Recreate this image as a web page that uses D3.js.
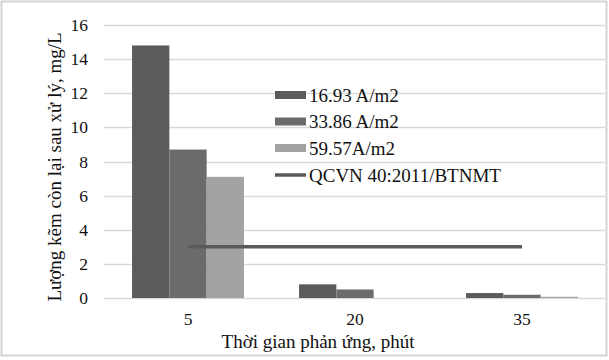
<!DOCTYPE html>
<html><head><meta charset="utf-8">
<script src="https://cdn.jsdelivr.net/npm/d3@7"></script>
<style>body{margin:0;background:#fff}svg{display:block}</style>
</head><body><svg id="c" width="609" height="360" font-family="'Liberation Serif', 'Times New Roman', Times, 'DejaVu Serif', serif"></svg>
<script>
const categories = ["5", "20", "35"];
const seriesNames = ["16.93 A/m2", "33.86 A/m2", "59.57A/m2"];
const series1 = [14.8, 0.8, 0.29];
const series2 = [8.7, 0.5, 0.19];
const series3 = [7.1, 0.0, 0.07];
const limitName = "QCVN 40:2011/BTNMT";
const limitValue = [3, 3, 3];
const yTicks = [0, 2, 4, 6, 8, 10, 12, 14, 16];
const colors = ["#5b5b5b", "#6b6b6b", "#a3a3a3"];
const FONT = "'Liberation Serif', 'Times New Roman', Times, 'DejaVu Serif', serif";

const svg = d3.select("#c");
svg.append("rect").attr("x",1.5).attr("y",1.5).attr("width",605).attr("height",354)
  .attr("fill","#fff").attr("stroke","#d4d4d4").attr("stroke-width",2);

const x0 = d3.scaleBand().domain(categories).range([104.5, 605.5]).paddingInner(0.33).paddingOuter(0.165);
const x1 = d3.scaleBand().domain(seriesNames).range([0, x0.bandwidth()]);
const y = d3.scaleLinear().domain([0, 16]).range([298, 25]);

svg.append("g").selectAll("line").data(yTicks).join("line")
  .attr("x1",104).attr("x2",605).attr("y1",d=>Math.round(y(d))+0.5).attr("y2",d=>Math.round(y(d))+0.5)
  .attr("stroke","#d9d9d9").attr("stroke-width",1.5);

svg.append("g").selectAll("text").data(yTicks).join("text")
  .attr("x",88).attr("y",d=>y(d)+6).attr("text-anchor","end").attr("font-family",FONT)
  .attr("font-size",17.5).attr("fill","#111").text(d=>d);

const allSeries = [series1, series2, series3];
const g = svg.append("g");
allSeries.forEach((vals, si) => {
  g.selectAll(null).data(vals).join("rect")
    .attr("x",(d,i)=>x0(categories[i]) + x1(seriesNames[si]))
    .attr("width",x1.bandwidth())
    .attr("y",d=>y(d)).attr("height",d=>y(0)-y(d))
    .attr("fill",colors[si]);
});

const line = d3.line().x((d,i)=>x0(categories[i])+x0.bandwidth()/2).y(d=>y(d));
svg.append("path").datum(limitValue).attr("d",line).attr("fill","none")
  .attr("stroke","#5b5b5b").attr("stroke-width",3.5);

svg.append("g").selectAll("text").data(categories).join("text")
  .attr("x",d=>x0(d)+x0.bandwidth()/2).attr("y",325).attr("text-anchor","middle").attr("font-family",FONT)
  .attr("font-size",17.5).attr("fill","#111").text(d=>d);

svg.append("text").attr("x",318).attr("y",348).attr("text-anchor","middle").attr("font-family",FONT)
  .attr("font-size",19).attr("fill","#111").text("Thời gian phản ứng, phút");
svg.append("text").attr("transform","translate(61,167) rotate(-90)").attr("text-anchor","middle").attr("font-family",FONT)
  .attr("font-size",19).attr("fill","#111").text("Lượng kẽm còn lại sau xử lý, mg/L");

const legY = [95, 121.5, 148, 175];
seriesNames.forEach((n, i) => {
  svg.append("rect").attr("x",275).attr("y",legY[i]-4).attr("width",31).attr("height",8).attr("fill",colors[i]);
  svg.append("text").attr("x",309).attr("y",legY[i]+6.5).attr("font-family",FONT).attr("font-size",19).attr("fill","#111").text(n);
});
svg.append("line").attr("x1",275).attr("x2",306).attr("y1",legY[3]).attr("y2",legY[3])
  .attr("stroke","#5b5b5b").attr("stroke-width",3.5);
svg.append("text").attr("x",309).attr("y",legY[3]+6.5).attr("font-family",FONT).attr("font-size",19).attr("fill","#111").text(limitName);
</script></body></html>
